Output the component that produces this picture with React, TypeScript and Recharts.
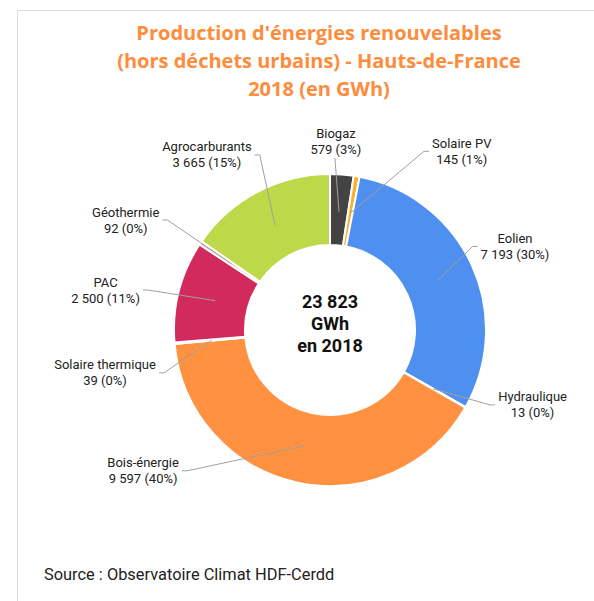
import React from "react";
import { PieChart, Pie, Cell } from "recharts";

const categories = [
  "Biogaz",
  "Solaire PV",
  "Eolien",
  "Hydraulique",
  "Bois-énergie",
  "Solaire thermique",
  "PAC",
  "Géothermie",
  "Agrocarburants",
];
const values = [579, 145, 7193, 13, 9597, 39, 2500, 92, 3665];
const colors = ["#434343", "#f7b12f", "#4e8ff0", "#46bdc6", "#ff9141", "#ffd966", "#d22a5c", "#f2a7b8", "#bdd849"];

// where each label block sits: angle clockwise from 12 o'clock, distance from centre
const labelAngles = [1.8, 36.4, 65.7, 110.3, 233.0, 259.2, 280.1, 298.3, 324.9];
const labelRadii = [189, 222, 203, 216, 234, 229, 228, 232, 214];

const total = values.reduce((a, b) => a + b, 0);

// largest remainder rounding, so the shares add up to 100
const percents = (() => {
  const raw = values.map((v) => (v / total) * 100);
  const out = raw.map(Math.floor);
  let left = 100 - out.reduce((a, b) => a + b, 0);
  const order = raw.map((r, i) => [r - Math.floor(r), i]).sort((a, b) => b[0] - a[0]);
  for (let k = 0; k < left; k++) out[order[k][1]] += 1;
  return out;
})();

const fmt = (v: number) => v.toString().replace(/\B(?=(\d{3})+(?!\d))/g, " ");

const data = categories.map((name, i) => ({ name, value: values[i] }));

const LABEL_FONT = "13px Roboto";
let ctx: CanvasRenderingContext2D | null = null;
const measure = (s: string) => {
  if (!ctx) ctx = document.createElement("canvas").getContext("2d");
  if (!ctx) return s.length * 6.5;
  ctx.font = LABEL_FONT;
  return ctx.measureText(s).width;
};

const RAD = Math.PI / 180;
const CX = 330;
const CY = 330;

const renderLabel = (p: any) => {
  const { cx, cy, midAngle, innerRadius, outerRadius, index } = p;
  const rMid = (innerRadius + outerRadius) / 2 - 2;
  const ix = cx + rMid * Math.cos(-midAngle * RAD);
  const iy = cy + rMid * Math.sin(-midAngle * RAD);
  const th = labelAngles[index] * RAD;
  const tx = cx + labelRadii[index] * Math.sin(th);
  const ty = cy - labelRadii[index] * Math.cos(th);
  const line1 = categories[index];
  const line2 = `${fmt(values[index])} (${percents[index]}%)`;
  const w = Math.max(measure(line1), measure(line2));
  let pts: number[][];
  if (Math.abs(tx - cx) < 30) {
    pts = [[tx - 1, ty + 17], [ix, iy]];
  } else if (tx > cx) {
    const ex = tx - w / 2 - 3;
    pts = [[ex, ty], [ex - 5, ty], [ix, iy]];
  } else {
    const ex = tx + w / 2 + 3;
    pts = [[ex, ty], [ex + 5, ty], [ix, iy]];
  }
  return (
    <g key={`lbl-${index}`}>
      <polyline points={pts.map((q) => q.join(",")).join(" ")} fill="none" stroke="#a0a0a0" strokeWidth={1} />
      <text textAnchor="middle" fontSize={13} fill="#222" fontFamily="Roboto">
        <tspan x={tx} y={ty - 3.5}>{line1}</tspan>
        <tspan x={tx} y={ty + 12.5}>{line2}</tspan>
      </text>
    </g>
  );
};

export default function App() {
  return (
    <div style={{ position: "absolute", left: 0, top: 0, width: 594, height: 601, overflow: "hidden", background: "#fff" }}>
      <div
        style={{
          position: "absolute",
          left: 17,
          top: 10,
          width: 620,
          height: 620,
          borderTop: "1px solid #dcdcdc",
          borderLeft: "1px solid #dcdcdc",
        }}
      />
      <div style={{ position: "absolute", left: 0, top: 0 }}>
        <PieChart width={594} height={601} margin={{ top: 0, right: 0, bottom: 0, left: 0 }}>
          <Pie
            data={data}
            dataKey="value"
            nameKey="name"
            cx={CX}
            cy={CY}
            innerRadius={85}
            outerRadius={156}
            startAngle={90}
            endAngle={-270}
            stroke="#fff"
            strokeWidth={2}
            label={renderLabel}
            labelLine={false}
            isAnimationActive={false}
          >
            {data.map((d, i) => (
              <Cell key={d.name} fill={colors[i]} />
            ))}
          </Pie>
        </PieChart>
      </div>
      <div
        style={{
          position: "absolute",
          left: 29,
          top: 19,
          width: 580,
          textAlign: "center",
          fontFamily: "Open Sans",
          fontWeight: 700,
          fontSize: 20,
          lineHeight: "28px",
          color: "#fd8c3c",
        }}
      >
        Production d'énergies renouvelables
        <br />
        (hors déchets urbains) - Hauts-de-France
        <br />
        2018 (en GWh)
      </div>
      <div
        style={{
          position: "absolute",
          left: CX - 60,
          top: CY - 39,
          width: 120,
          textAlign: "center",
          fontFamily: "Roboto",
          fontWeight: 700,
          fontSize: 18,
          lineHeight: "22px",
          color: "#111",
        }}
      >
        {fmt(total)}
        <br />
        GWh
        <br />
        en 2018
      </div>
      <div
        style={{
          position: "absolute",
          left: 44,
          top: 564,
          fontFamily: "Roboto",
          fontSize: 16.4,
          lineHeight: "22px",
          color: "#222",
          whiteSpace: "nowrap",
        }}
      >
        Source : Observatoire Climat HDF-Cerdd
      </div>
    </div>
  );
}
